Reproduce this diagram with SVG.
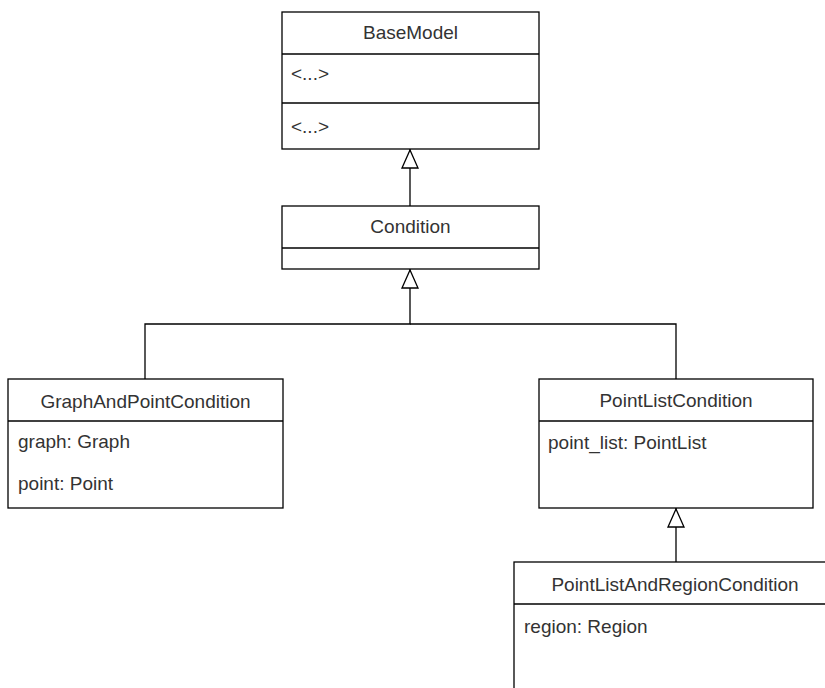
<svg xmlns="http://www.w3.org/2000/svg" width="825" height="688" viewBox="0 0 825 688">
<defs>
<marker id="tri" viewBox="0 0 20 18" refX="20" refY="9" markerWidth="20" markerHeight="18" markerUnits="userSpaceOnUse" orient="auto">
<path d="M1,1 L19,9 L1,17 Z" fill="#fff" stroke="#000" stroke-width="1.3"/>
</marker>
</defs>
<style>
.box{fill:#fff;stroke:#000;stroke-width:1.3}
.ln{fill:none;stroke:#000;stroke-width:1.3}
.t{font-family:"Liberation Sans",Arial,sans-serif;font-size:19px;fill:#333}
.c{text-anchor:middle}
</style>
<rect width="825" height="688" fill="#fff"/>
<g id="BaseModel">
<rect class="box" x="282" y="12" width="257" height="137"/>
<line class="ln" x1="282" y1="54" x2="539" y2="54"/>
<line class="ln" x1="282" y1="103" x2="539" y2="103"/>
<text class="t c" x="410.5" y="39">BaseModel</text>
<text class="t" x="291" y="80">&lt;...&gt;</text>
<text class="t" x="291" y="133">&lt;...&gt;</text>
</g>
<g id="Condition">
<rect class="box" x="282" y="206" width="257" height="63"/>
<line class="ln" x1="282" y1="248" x2="539" y2="248"/>
<text class="t c" x="410.5" y="233">Condition</text>
</g>
<g id="GraphAndPointCondition">
<rect class="box" x="8" y="379" width="275" height="129"/>
<line class="ln" x1="8" y1="421" x2="283" y2="421"/>
<text class="t c" x="145.5" y="408">GraphAndPointCondition</text>
<text class="t" x="18" y="448">graph: Graph</text>
<text class="t" x="18" y="490">point: Point</text>
</g>
<g id="PointListCondition">
<rect class="box" x="539" y="379" width="274" height="129"/>
<line class="ln" x1="539" y1="421" x2="813" y2="421"/>
<text class="t c" x="676" y="407">PointListCondition</text>
<text class="t" x="548" y="449">point_list: PointList</text>
</g>
<g id="PointListAndRegionCondition">
<rect class="box" x="514" y="562" width="322" height="140"/>
<line class="ln" x1="514" y1="604" x2="836" y2="604"/>
<text class="t c" x="675" y="591">PointListAndRegionCondition</text>
<text class="t" x="524" y="633">region: Region</text>
</g>
<g id="connectors">
<path class="ln" d="M410,206 L410,149" marker-end="url(#tri)"/>
<path class="ln" d="M145,379 L145,324 L410,324 L410,269" marker-end="url(#tri)"/>
<path class="ln" d="M676,379 L676,324 L410,324"/>
<path class="ln" d="M676,562 L676,508" marker-end="url(#tri)"/>
</g>
</svg>
